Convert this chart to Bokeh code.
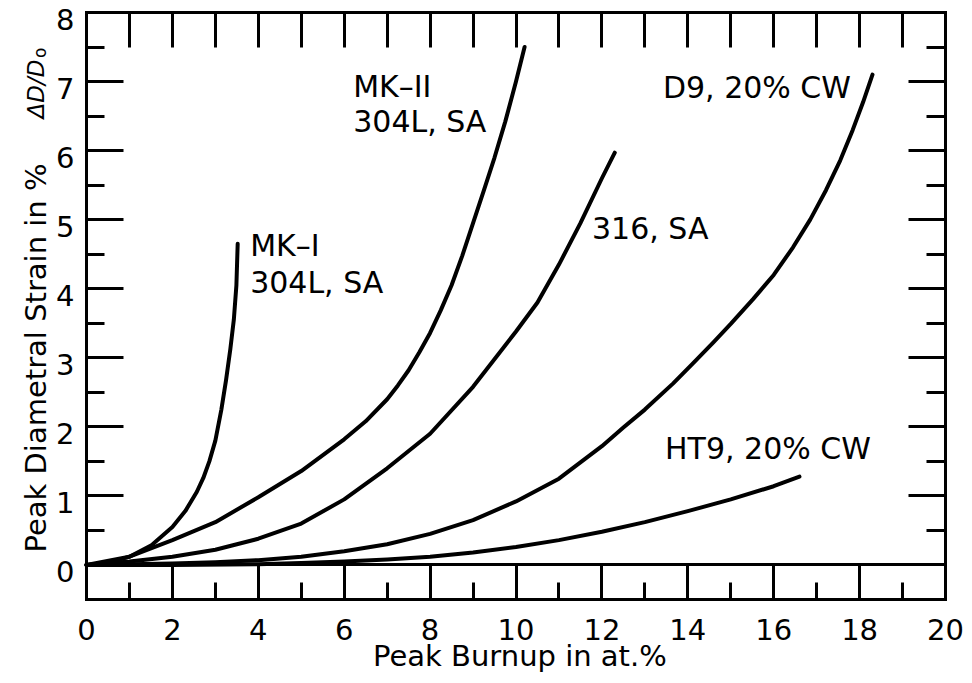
import math
from bokeh.plotting import figure
from bokeh.models import Range1d, FixedTicker, LinearAxis, Label
from bokeh.embed import file_html
from bokeh.resources import INLINE

# ---------------- data ----------------
mk1_x = [0, 0.5, 1.0, 1.5, 2.0, 2.3, 2.57, 2.72, 2.86, 3.0, 3.14, 3.25, 3.35, 3.43, 3.49, 3.52]
mk1_y = [0, 0.03, 0.12, 0.28, 0.55, 0.78, 1.06, 1.26, 1.50, 1.80, 2.25, 2.68, 3.13, 3.55, 4.05, 4.65]

mk2_x = [0, 1, 2, 3, 4, 5, 6, 6.5, 7, 7.25, 7.5, 7.75, 8, 8.25, 8.5, 8.75, 9, 9.25, 9.5,
         9.75, 10, 10.2]
mk2_y = [0, 0.12, 0.36, 0.62, 0.98, 1.36, 1.82, 2.08, 2.40, 2.60, 2.82, 3.08, 3.36, 3.69, 4.05,
         4.48, 4.95, 5.42, 5.90, 6.42, 7.00, 7.50]

s316_x = [0, 1, 2, 3, 4, 5, 6, 7, 8, 9, 10, 10.5, 11, 11.5, 12, 12.3]
s316_y = [0, 0.05, 0.12, 0.22, 0.38, 0.60, 0.95, 1.40, 1.90, 2.58, 3.38, 3.80, 4.35, 4.95, 5.60, 5.97]

d9_x = [0, 1, 2, 3, 4, 5, 6, 7, 8, 9, 10, 11, 12, 12.5, 13, 13.66, 14.12, 14.59, 15.0,
        15.52, 16.0, 16.45, 16.85, 17.22, 17.55, 17.84, 18.08, 18.3]
d9_y = [0, 0.01, 0.02, 0.04, 0.07, 0.12, 0.20, 0.30, 0.45, 0.65, 0.92, 1.25, 1.72, 1.99, 2.25,
        2.63, 2.92, 3.22, 3.49, 3.85, 4.20, 4.60, 5.00, 5.43, 5.86, 6.30, 6.70, 7.10]

ht9_x = [0, 2, 4, 5, 6, 7, 8, 9, 10, 11, 12, 13, 14, 15, 16, 16.6]
ht9_y = [0, 0.0, 0.01, 0.03, 0.05, 0.08, 0.12, 0.18, 0.26, 0.36, 0.48, 0.62, 0.78, 0.95, 1.14, 1.28]

x_major = [0, 2, 4, 6, 8, 10, 12, 14, 16, 18, 20]
x_minor = [1, 3, 5, 7, 9, 11, 13, 15, 17, 19]
x_top = list(range(0, 21))
y_major = [0, 1, 2, 3, 4, 5, 6, 7, 8]
y_minor = [0.5, 1.5, 2.5, 3.5, 4.5, 5.5, 6.5, 7.5]

x_label = "Peak Burnup in at.%"
y_label_main = "Peak Diametral Strain in %"
y_label_ital = "ΔD/D"
y_label_sub = "o"

curve_labels = [
    ("MK–I", 3.81, 4.62),
    ("304L, SA", 3.81, 4.09),
    ("MK–II", 6.21, 6.93),
    ("304L, SA", 6.21, 6.42),
    ("316, SA", 11.77, 4.87),
    ("D9, 20% CW", 13.42, 6.91),
    ("HT9, 20% CW", 13.47, 1.68),
]

FONT = "DejaVu Sans"
LABEL_DROP = 0.1  # the printed y labels sit a little below their ticks

# the frame fills the whole canvas; the axes are pinned at the box edges
p = figure(width=972, height=683, output_backend="svg", toolbar_location=None,
           x_range=Range1d(-2.0023, 20.6286), y_range=Range1d(-1.7163, 8.1738),
           x_axis_location=None, y_axis_location=None, min_border=0)
p.grid.visible = False
p.outline_line_color = None
p.background_fill_color = "white"
p.border_fill_color = "white"


def style_axis(ax, major_in, minor_in, labels=True):
    ax.major_tick_in = major_in
    ax.major_tick_out = 0
    ax.minor_tick_in = minor_in
    ax.minor_tick_out = 0
    ax.major_tick_line_width = 3
    ax.minor_tick_line_width = 3
    ax.major_tick_line_color = "black"
    ax.minor_tick_line_color = "black"
    ax.axis_line_width = 3
    ax.axis_line_color = "black"
    ax.axis_line_cap = "square"
    ax.major_label_text_font = FONT
    ax.major_label_text_font_size = "29px"
    ax.major_label_text_color = "black"
    if not labels:
        ticks = ax.ticker.ticks
        ax.major_label_overrides = {t: "" for t in ticks}
        ax.major_label_standoff = 0


xb = LinearAxis(ticker=FixedTicker(ticks=x_major, minor_ticks=x_minor),
                fixed_location=-0.5, bounds=(0, 20))
style_axis(xb, 34, 17)
xb.major_label_standoff = 19
p.add_layout(xb, "below")

xt = LinearAxis(ticker=FixedTicker(ticks=x_top, minor_ticks=[]),
                fixed_location=8, bounds=(0, 20))
style_axis(xt, 35, 0, labels=False)
p.add_layout(xt, "above")

# left axis: ticks and line
yl = LinearAxis(ticker=FixedTicker(ticks=y_major, minor_ticks=y_minor),
                fixed_location=0, bounds=(-0.5, 8))
style_axis(yl, 37, 18, labels=False)
p.add_layout(yl, "left")

# left axis: the numbers, set slightly low as in the print
lab_pos = [round(v - LABEL_DROP, 2) for v in y_major]
ylab = LinearAxis(ticker=FixedTicker(ticks=lab_pos, minor_ticks=[]),
                  fixed_location=0, bounds=(-0.5, 8))
style_axis(ylab, 0, 0)
ylab.axis_line_color = None
ylab.major_tick_line_color = None
ylab.minor_tick_line_color = None
ylab.major_label_standoff = 12
ylab.major_label_overrides = {pos: str(v) for pos, v in zip(lab_pos, y_major)}
p.add_layout(ylab, "left")

yr = LinearAxis(ticker=FixedTicker(ticks=y_major, minor_ticks=y_minor),
                fixed_location=20, bounds=(-0.5, 8))
style_axis(yr, 37, 19, labels=False)
p.add_layout(yr, "right")

# the zero line across the box
x0 = LinearAxis(ticker=FixedTicker(ticks=[], minor_ticks=[]),
                fixed_location=0, bounds=(0, 20))
style_axis(x0, 0, 0)
p.add_layout(x0, "below")

for xs, ys in [(mk1_x, mk1_y), (mk2_x, mk2_y), (s316_x, s316_y), (d9_x, d9_y), (ht9_x, ht9_y)]:
    p.line(xs, ys, line_color="black", line_width=4, line_cap="round", line_join="round")

for txt, lx, ly in curve_labels:
    p.add_layout(Label(x=lx, y=ly, text=txt, text_font=FONT, text_font_size="30px",
                       text_color="black", text_align="left", text_baseline="alphabetic"))

# axis titles
p.add_layout(Label(x=10.09, y=-1.325, text=x_label, text_font=FONT, text_font_size="29px",
                   text_color="black", text_align="center", text_baseline="alphabetic"))

p.add_layout(Label(x=-1.187, y=0.18, text=y_label_main, text_font=FONT, text_font_size="29px",
                   text_color="black", text_align="left", text_baseline="alphabetic",
                   angle=math.pi / 2))
p.add_layout(Label(x=-1.187, y=6.465, text=y_label_ital, text_font=FONT, text_font_size="23px",
                   text_font_style="italic", text_color="black", text_align="left",
                   text_baseline="alphabetic", angle=math.pi / 2))
p.add_layout(Label(x=-1.071, y=7.34, text=y_label_sub, text_font=FONT, text_font_size="17px",
                   text_color="black", text_align="left", text_baseline="alphabetic",
                   angle=math.pi / 2))

open("out.html", "w").write(file_html(p, INLINE))
